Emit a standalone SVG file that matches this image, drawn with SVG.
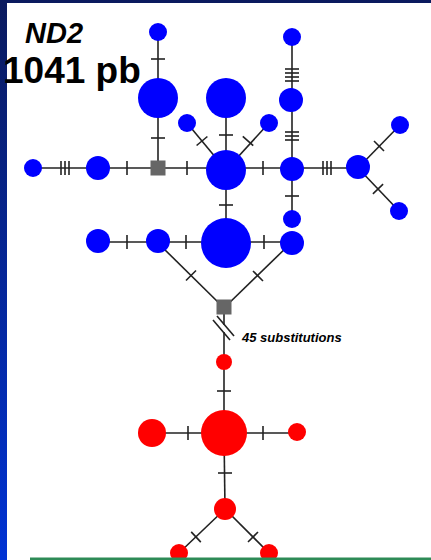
<svg xmlns="http://www.w3.org/2000/svg" width="431" height="560" viewBox="0 0 431 560">
<defs>
<linearGradient id="bg" x1="0" y1="0" x2="0" y2="1">
<stop offset="0" stop-color="#0a1a5e"/>
<stop offset="1" stop-color="#0033d4"/>
</linearGradient>
</defs>
<style>
.e{stroke:#222;stroke-width:1.6;fill:none}
.b{fill:#0000ff}
.r{fill:#ff0000}
.sq{fill:#666}
.t{font-family:"Liberation Sans",Arial,sans-serif;font-weight:bold;fill:#000}
</style>
<rect x="0" y="0" width="431" height="560" fill="url(#bg)"/>
<rect x="7" y="3" width="424" height="557" fill="#fff"/>
<g id="connectors" class="e">
<!-- blue vertical left column -->
<line x1="158" y1="32" x2="158" y2="168"/>
<line x1="151" y1="59" x2="165" y2="59"/>
<line x1="151" y1="138" x2="165" y2="138"/>
<!-- main horizontal -->
<line x1="33" y1="168" x2="358" y2="168"/>
<line x1="61" y1="161" x2="61" y2="175"/>
<line x1="65" y1="161" x2="65" y2="175"/>
<line x1="69" y1="161" x2="69" y2="175"/>
<line x1="127" y1="161" x2="127" y2="175"/>
<line x1="187" y1="161" x2="187" y2="175"/>
<line x1="263" y1="161" x2="263" y2="175"/>
<line x1="323" y1="161" x2="323" y2="175"/>
<line x1="327" y1="161" x2="327" y2="175"/>
<line x1="331" y1="161" x2="331" y2="175"/>
<!-- diagonals to center -->
<line x1="187" y1="123" x2="226" y2="170"/>
<line x1="196.6" y1="145.5" x2="207.4" y2="136.5"/>
<line x1="269" y1="123" x2="226" y2="170"/>
<line x1="242.8" y1="136.3" x2="253.2" y2="145.7"/>
<!-- center column -->
<line x1="226" y1="98" x2="226" y2="243"/>
<line x1="219" y1="135" x2="233" y2="135"/>
<line x1="219" y1="205" x2="233" y2="205"/>
<!-- right column -->
<line x1="292" y1="37" x2="292" y2="219"/>
<line x1="285" y1="69" x2="299" y2="69"/>
<line x1="285" y1="73" x2="299" y2="73"/>
<line x1="285" y1="77" x2="299" y2="77"/>
<line x1="285" y1="81" x2="299" y2="81"/>
<line x1="285" y1="132" x2="299" y2="132"/>
<line x1="285" y1="136" x2="299" y2="136"/>
<line x1="285" y1="140" x2="299" y2="140"/>
<line x1="285" y1="196" x2="299" y2="196"/>
<!-- far right branches -->
<line x1="358" y1="168" x2="400" y2="125"/>
<line x1="374" y1="141" x2="384" y2="151"/>
<line x1="358" y1="168" x2="399" y2="211"/>
<line x1="372.9" y1="193.8" x2="383.1" y2="184.2"/>
<!-- lower row -->
<line x1="98" y1="242" x2="292" y2="242"/>
<line x1="127" y1="235" x2="127" y2="249"/>
<line x1="186" y1="235" x2="186" y2="249"/>
<line x1="264" y1="235" x2="264" y2="249"/>
<!-- diagonals to lower square -->
<line x1="158" y1="243" x2="224" y2="308"/>
<line x1="186" y1="280.5" x2="196" y2="270.5"/>
<line x1="292" y1="242" x2="224" y2="308"/>
<line x1="253" y1="271" x2="263" y2="281"/>
<!-- long break -->
<line x1="224" y1="307" x2="224" y2="325"/>
<line x1="224" y1="332" x2="224" y2="362"/>
<line x1="213" y1="320" x2="230" y2="340"/>
<line x1="217" y1="316" x2="234" y2="336"/>
<!-- red -->
<line x1="224" y1="362" x2="224" y2="433"/>
<line x1="217" y1="391" x2="231" y2="391"/>
<line x1="152" y1="433" x2="297" y2="433"/>
<line x1="188" y1="426" x2="188" y2="440"/>
<line x1="263" y1="426" x2="263" y2="440"/>
<line x1="224" y1="433" x2="225" y2="509"/>
<line x1="218" y1="473" x2="232" y2="473"/>
<line x1="225" y1="509" x2="179" y2="553"/>
<line x1="191.2" y1="531.9" x2="200.8" y2="542.1"/>
<line x1="225" y1="509" x2="269" y2="553"/>
<line x1="248" y1="542" x2="258" y2="532"/>
</g>
<g id="b_top_left"><circle class="b" cx="158" cy="32" r="9"/></g>
<g id="b_big_left"><circle class="b" cx="158" cy="98" r="20"/></g>
<g id="b_big_top"><circle class="b" cx="226" cy="98" r="20"/></g>
<g id="b_small_l"><circle class="b" cx="187" cy="123" r="9"/></g>
<g id="b_small_r"><circle class="b" cx="269" cy="123" r="9"/></g>
<g id="b_far_left"><circle class="b" cx="33" cy="168" r="9"/></g>
<g id="b_left"><circle class="b" cx="98" cy="168" r="12"/></g>
<g id="sq_top"><rect class="sq" x="150.5" y="160.5" width="15" height="15"/></g>
<g id="b_center"><circle class="b" cx="226" cy="170" r="20"/></g>
<g id="b_top_right"><circle class="b" cx="292" cy="37" r="9"/></g>
<g id="b_right_mid"><circle class="b" cx="291" cy="100" r="12"/></g>
<g id="b_right"><circle class="b" cx="292" cy="169" r="12"/></g>
<g id="b_right_low"><circle class="b" cx="292" cy="219" r="9"/></g>
<g id="b_far_right"><circle class="b" cx="358" cy="167" r="12"/></g>
<g id="b_fr_up"><circle class="b" cx="400" cy="125" r="9"/></g>
<g id="b_fr_down"><circle class="b" cx="399" cy="211" r="9"/></g>
<g id="b_low_1"><circle class="b" cx="98" cy="241" r="12"/></g>
<g id="b_low_2"><circle class="b" cx="158" cy="241" r="12"/></g>
<g id="b_low_big"><circle class="b" cx="226" cy="243" r="25"/></g>
<g id="b_low_3"><circle class="b" cx="292" cy="243" r="12"/></g>
<g id="sq_low"><rect class="sq" x="216.5" y="299.5" width="15" height="15"/></g>
<g id="r_top"><circle class="r" cx="224" cy="362" r="8"/></g>
<g id="r_big"><circle class="r" cx="224" cy="433" r="23"/></g>
<g id="r_left"><circle class="r" cx="152" cy="433" r="14"/></g>
<g id="r_right"><circle class="r" cx="297" cy="432" r="9"/></g>
<g id="r_low"><circle class="r" cx="225" cy="509" r="11"/></g>
<g id="r_bl"><circle class="r" cx="179" cy="553" r="9"/></g>
<g id="r_br"><circle class="r" cx="269" cy="553" r="9"/></g>
<rect x="30" y="557.5" width="401" height="3" fill="#2e8b57"/>
<text class="t" x="25" y="43" font-size="29" font-style="italic">ND2</text>
<text class="t" x="3" y="83" font-size="37">1041 pb</text>
<text class="t" x="242" y="342" font-size="13" font-style="italic">45 substitutions</text>
</svg>
